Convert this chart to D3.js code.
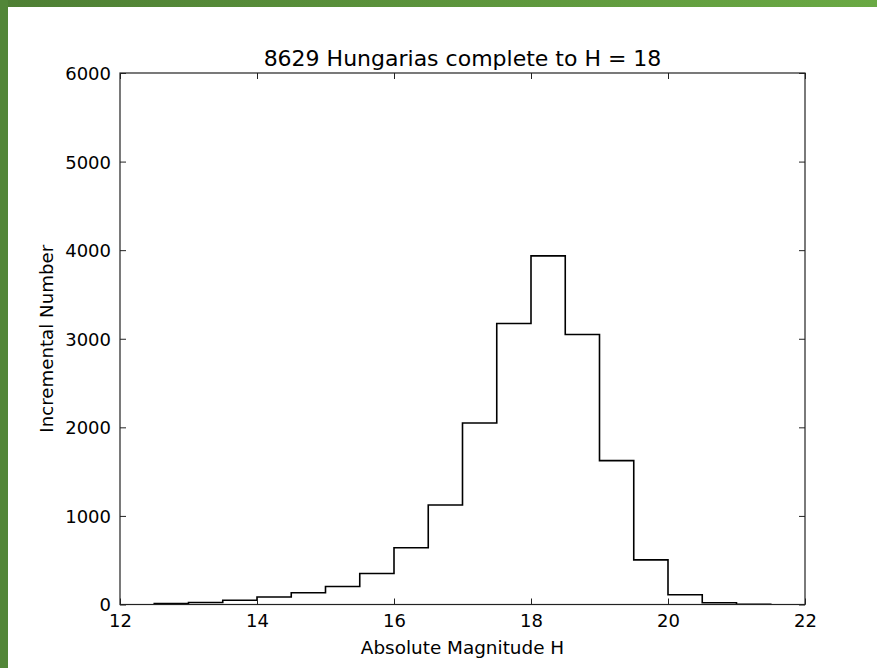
<!DOCTYPE html>
<html>
<head>
<meta charset="utf-8">
<script src="https://cdn.jsdelivr.net/npm/d3@7"></script>
<style>
  html, body { margin: 0; padding: 0; background: #fff; }
  svg { display: block; }
  text { font-family: "DejaVu Sans", sans-serif; fill: #000; }
</style>
</head>
<body>
<script>
// Histogram bins (left edges, width 0.5 mag) and counts per bin
const binStarts = [12.5, 13.0, 13.5, 14.0, 14.5, 15.0, 15.5, 16.0, 16.5,
                   17.0, 17.5, 18.0, 18.5, 19.0, 19.5, 20.0, 20.5, 21.0];
const binWidth = 0.5;
const counts = [10, 22, 48, 85, 133, 203, 350, 640, 1124,
                2049, 3173, 3936, 3048, 1624, 504, 110, 20, 3];

const xTicks = [12, 14, 16, 18, 20, 22];
const yTicks = [0, 1000, 2000, 3000, 4000, 5000, 6000];

const titleText = "8629 Hungarias complete to H = 18";
const xLabel = "Absolute Magnitude H";
const yLabel = "Incremental Number";

const W = 877, H = 668;
const plotL = 120, plotR = 805, plotT = 73, plotB = 604.5;

const svg = d3.select("body").append("svg")
  .attr("width", W).attr("height", H);

// page frame: green strips along the left and top edges
const defs = svg.append("defs");
const grad = defs.append("linearGradient").attr("id", "topband")
  .attr("x1", "0%").attr("x2", "100%");
grad.append("stop").attr("offset", "0%").attr("stop-color", "#4e7f34");
grad.append("stop").attr("offset", "100%").attr("stop-color", "#6aa944");
svg.append("rect").attr("x", 0).attr("y", 0).attr("width", W).attr("height", 7)
  .attr("fill", "url(#topband)");
svg.append("rect").attr("x", 0).attr("y", 0).attr("width", 8).attr("height", H)
  .attr("fill", "#528638");

const x = d3.scaleLinear().domain([12, 22]).range([plotL, plotR]);
const y = d3.scaleLinear().domain([0, 6000]).range([plotB, plotT]);

// step outline of the histogram
const pts = [[binStarts[0], 0]];
binStarts.forEach((b, i) => {
  pts.push([b, counts[i]]);
  pts.push([b + binWidth, counts[i]]);
});
pts.push([binStarts[binStarts.length - 1] + binWidth, 0]);

svg.append("path")
  .datum(pts)
  .attr("d", d3.line().x(d => x(d[0])).y(d => y(d[1])))
  .attr("fill", "none")
  .attr("stroke", "#000")
  .attr("stroke-width", 1.6)
  .attr("stroke-linejoin", "miter");

// axes with inward ticks on all four sides
const tickLen = 6;
const fontSize = 18;

const axB = d3.axisBottom(x).tickValues(xTicks).tickSize(-tickLen).tickPadding(10).tickFormat(d3.format("d"));
const axT = d3.axisTop(x).tickValues(xTicks).tickSize(-tickLen).tickFormat("");
const axL = d3.axisLeft(y).tickValues(yTicks).tickSize(-tickLen).tickPadding(9).tickFormat(d3.format("d"));
const axR = d3.axisRight(y).tickValues(yTicks).tickSize(-tickLen).tickFormat("");

function styleAxis(g) {
  g.attr("font-family", null).attr("font-size", null);
  g.selectAll("path.domain").remove();
  g.selectAll(".tick line").attr("stroke", "#222").attr("stroke-width", 1);
  g.selectAll(".tick text").attr("font-family", "DejaVu Sans").attr("font-size", fontSize).attr("fill", "#000");
}

svg.append("g").attr("transform", `translate(0,${plotB})`).call(axB).call(styleAxis)
  .selectAll(".tick text").attr("dy", "0.71em");
svg.append("g").attr("transform", `translate(0,${plotT})`).call(axT).call(styleAxis);
svg.append("g").attr("transform", `translate(${plotL},0)`).call(axL).call(styleAxis)
  .selectAll(".tick text").attr("dy", "0.36em");
svg.append("g").attr("transform", `translate(${plotR},0)`).call(axR).call(styleAxis);

// plot frame
svg.append("rect")
  .attr("x", plotL).attr("y", plotT)
  .attr("width", plotR - plotL).attr("height", plotB - plotT)
  .attr("fill", "none").attr("stroke", "#222").attr("stroke-width", 1.2);

// title and axis labels
svg.append("text")
  .attr("x", (plotL + plotR) / 2).attr("y", 66)
  .attr("text-anchor", "middle")
  .attr("font-size", 22)
  .text(titleText);

svg.append("text")
  .attr("x", (plotL + plotR) / 2).attr("y", 654)
  .attr("text-anchor", "middle")
  .attr("font-size", 18.4)
  .text(xLabel);

svg.append("text")
  .attr("transform", `translate(53,${(plotT + plotB) / 2}) rotate(-90)`)
  .attr("text-anchor", "middle")
  .attr("font-size", 18.2)
  .text(yLabel);
</script>
</body>
</html>
